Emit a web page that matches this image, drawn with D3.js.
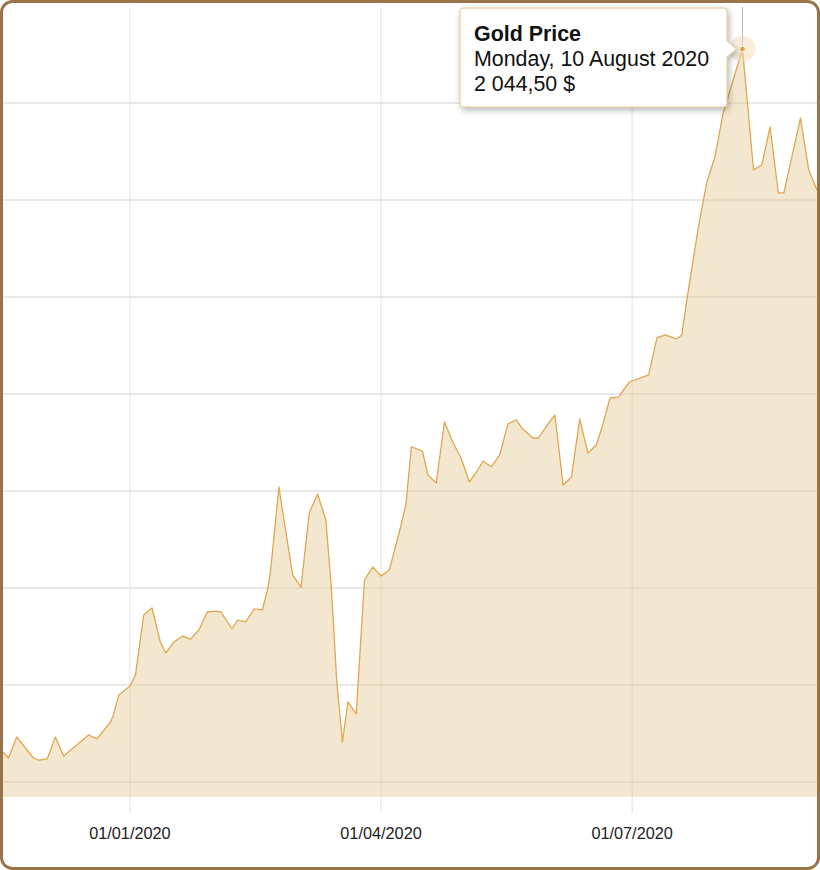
<!DOCTYPE html>
<html>
<head>
<meta charset="utf-8">
<script src="https://cdn.jsdelivr.net/npm/d3@7"></script>
<style>
  body { margin: 0; background: #fff; }
  svg { display: block; font-family: "Liberation Sans", Arial, sans-serif; }
</style>
</head>
<body>
<svg id="chart" width="820" height="870"></svg>
<script>
// gold price
const dates = [
  "2019-11-16", "2019-11-18", "2019-11-21", "2019-11-27", "2019-11-29", "2019-12-02",
  "2019-12-05", "2019-12-08", "2019-12-17", "2019-12-20", "2019-12-25", "2019-12-26",
  "2019-12-28", "2020-01-01", "2020-01-03", "2020-01-06", "2020-01-09", "2020-01-12",
  "2020-01-14", "2020-01-17", "2020-01-20", "2020-01-23", "2020-01-26", "2020-01-29",
  "2020-02-01", "2020-02-03", "2020-02-07", "2020-02-09", "2020-02-12", "2020-02-15",
  "2020-02-18", "2020-02-20", "2020-02-21", "2020-02-24", "2020-02-26", "2020-02-29",
  "2020-03-03", "2020-03-06", "2020-03-09", "2020-03-12", "2020-03-14", "2020-03-16",
  "2020-03-18", "2020-03-20", "2020-03-23", "2020-03-26", "2020-03-29", "2020-04-01",
  "2020-04-04", "2020-04-08", "2020-04-10", "2020-04-12", "2020-04-16", "2020-04-18",
  "2020-04-21", "2020-04-24", "2020-04-27", "2020-04-30", "2020-05-03", "2020-05-06",
  "2020-05-08", "2020-05-11", "2020-05-14", "2020-05-17", "2020-05-20", "2020-05-22",
  "2020-05-26", "2020-05-28", "2020-05-31", "2020-06-03", "2020-06-06", "2020-06-09",
  "2020-06-12", "2020-06-15", "2020-06-18", "2020-06-20", "2020-06-23", "2020-06-26",
  "2020-06-30", "2020-07-07", "2020-07-10", "2020-07-13", "2020-07-17", "2020-07-19",
  "2020-07-21", "2020-07-25", "2020-07-28", "2020-07-31", "2020-08-03", "2020-08-10",
  "2020-08-14", "2020-08-17", "2020-08-20", "2020-08-23", "2020-08-25", "2020-08-31",
  "2020-09-03", "2020-09-06"
];
const prices = [
  1464.7, 1459.8, 1477.1, 1459.8, 1458.1, 1459.0,
  1477.1, 1461.4, 1478.8, 1475.5, 1489.5, 1495.3,
  1511.8, 1519.2, 1528.2, 1577.7, 1583.5, 1555.5,
  1546.4, 1555.5, 1560.4, 1557.9, 1565.4, 1580.2,
  1581.0, 1580.2, 1566.2, 1573.6, 1572.0, 1582.7,
  1581.9, 1600.0, 1614.8, 1683.3, 1653.6, 1610.7,
  1600.8, 1661.9, 1677.5, 1656.1, 1600.0, 1521.6,
  1473.0, 1506.0, 1496.1, 1606.6, 1617.3, 1609.9,
  1614.8, 1649.5, 1668.5, 1716.3, 1713.0, 1693.2,
  1686.6, 1736.9, 1720.4, 1707.2, 1687.4, 1697.3,
  1704.7, 1699.8, 1709.7, 1735.3, 1738.6, 1732.0,
  1723.7, 1723.7, 1733.6, 1742.7, 1684.9, 1691.5,
  1739.4, 1711.3, 1717.9, 1732.0, 1756.7, 1757.5,
  1769.9, 1775.7, 1806.2, 1808.7, 1805.4, 1808.7,
  1840.0, 1897.7, 1934.0, 1955.5, 1991.8, 2044.5,
  1944.7, 1948.9, 1980.2, 1925.8, 1925.8, 1987.6,
  1944.7, 1928.2
];
const xTickDates = ["2020-01-01", "2020-04-01", "2020-07-01"];
const yTickValues = [1440, 1520, 1600, 1680, 1760, 1840, 1920, 2000];
const seriesName = "Gold Price";
const hoverIndex = 89;

const parse = d3.timeParse("%Y-%m-%d");
const data = dates.map((d, i) => ({ date: parse(d), value: prices[i] }));

const svg = d3.select("#chart");
const plot = { left: 3, right: 817, top: 7, bottom: 797 };

const x = d3.scaleTime()
    .domain(d3.extent(data, d => d.date))
    .range([plot.left, plot.right]);
const y = d3.scaleLinear()
    .domain([1440, 2000])
    .range([782, 103]);

const defs = svg.append("defs");
let shadow = defs.append("filter").attr("id", "tip-shadow")
    .attr("x", "-10%").attr("y", "-10%").attr("width", "130%").attr("height", "140%");
shadow.append("feDropShadow")
    .attr("dx", 1.5).attr("dy", 2.5).attr("stdDeviation", 3)
    .attr("flood-color", "#000").attr("flood-opacity", 0.3);

// horizontal grid
svg.append("g").attr("class", "grid-y")
    .selectAll("line")
    .data(yTickValues)
    .enter().append("line")
    .attr("x1", plot.left).attr("x2", plot.right)
    .attr("y1", d => y(d)).attr("y2", d => y(d))
    .attr("stroke", "#dedede").attr("stroke-width", 1);

// vertical grid / ticks
let xTicks = xTickDates.map(parse);
svg.append("g").attr("class", "grid-x")
    .selectAll("line")
    .data(xTicks)
    .enter().append("line")
    .attr("x1", d => x(d)).attr("x2", d => x(d))
    .attr("y1", plot.top).attr("y2", 813)
    .attr("stroke", "#e2e2e2").attr("stroke-width", 1);

// area + line
let area = d3.area()
    .x(d => x(d.date))
    .y0(plot.bottom)
    .y1(d => y(d.value));
let line = d3.line()
    .x(d => x(d.date))
    .y(d => y(d.value));

svg.append("path").datum(data)
    .attr("d", area)
    .attr("fill", "#e9cf9f")
    .attr("fill-opacity", 0.5);

// grid shows faintly through the fill
svg.append("g")
    .selectAll("line")
    .data(yTickValues)
    .enter().append("line")
    .attr("x1", plot.left).attr("x2", plot.right)
    .attr("y1", d => y(d)).attr("y2", d => y(d))
    .attr("stroke", "#d8c8ac").attr("stroke-opacity", 0.35);

svg.append("path").datum(data)
    .attr("d", line)
    .attr("fill", "none")
    .attr("stroke", "#e1a650")
    .attr("stroke-width", 1.3)
    .attr("stroke-linejoin", "round");

// x axis labels
let fmt = d3.timeFormat("%d/%m/%Y");
svg.append("g").attr("class", "x-labels")
    .selectAll("text")
    .data(xTicks)
    .enter().append("text")
    .attr("x", d => x(d))
    .attr("y", 838.5)
    .attr("text-anchor", "middle")
    .attr("font-size", 16.3)
    .attr("fill", "#222")
    .text(d => fmt(d));

// hovered point
let hp = data[hoverIndex];
let hx = x(hp.date), hy = y(hp.value);
svg.append("line")
    .attr("x1", hx).attr("x2", hx)
    .attr("y1", plot.top).attr("y2", hy)
    .attr("stroke", "#bbb").attr("stroke-width", 1);
svg.append("circle")
    .attr("cx", hx).attr("cy", hy).attr("r", 13)
    .attr("fill", "#f1ddb5").attr("fill-opacity", 0.5);
svg.append("circle")
    .attr("cx", hx).attr("cy", hy).attr("r", 3)
    .attr("fill", "#e1a650").attr("stroke", "#fff").attr("stroke-width", 1);

// tooltip
let tip = svg.append("g").attr("class", "tooltip");
let tw = 267, th = 99, tx = 460, ty = 8;
let arrowTip = hx - 6;
let tipPath = d3.path();
tipPath.moveTo(tx + 3, ty);
tipPath.lineTo(tx + tw - 3, ty);
tipPath.quadraticCurveTo(tx + tw, ty, tx + tw, ty + 3);
tipPath.lineTo(tx + tw, hy - 8);
tipPath.lineTo(arrowTip, hy);
tipPath.lineTo(tx + tw, hy + 8);
tipPath.lineTo(tx + tw, ty + th - 3);
tipPath.quadraticCurveTo(tx + tw, ty + th, tx + tw - 3, ty + th);
tipPath.lineTo(tx + 3, ty + th);
tipPath.quadraticCurveTo(tx, ty + th, tx, ty + th - 3);
tipPath.lineTo(tx, ty + 3);
tipPath.quadraticCurveTo(tx, ty, tx + 3, ty);
tipPath.closePath();
tip.append("path")
    .attr("d", tipPath.toString())
    .attr("fill", "#fff")
    .attr("stroke", "#e3c690")
    .attr("stroke-width", 1)
    .attr("filter", "url(#tip-shadow)");

let numFmt = d3.formatLocale({ decimal: ",", thousands: " ", grouping: [3], currency: ["", " $"] }).format("$,.2f");
let dayFmt = d3.timeFormat("%A, %-d %B %Y");
let lines = [
    { text: seriesName, bold: true },
    { text: dayFmt(hp.date), bold: false },
    { text: numFmt(hp.value), bold: false }
];
tip.selectAll("text")
    .data(lines)
    .enter().append("text")
    .attr("x", tx + 14)
    .attr("y", (d, i) => ty + 33 + i * 25)
    .attr("font-size", 21.4)
    .attr("font-weight", d => d.bold ? "bold" : "normal")
    .attr("fill", "#111")
    .text(d => d.text);

// outer frame
svg.append("rect")
    .attr("x", 1.5).attr("y", 1.5)
    .attr("width", 817).attr("height", 867)
    .attr("rx", 11).attr("ry", 11)
    .attr("fill", "none")
    .attr("stroke", "#9a7448")
    .attr("stroke-width", 3);
</script>
</body>
</html>
